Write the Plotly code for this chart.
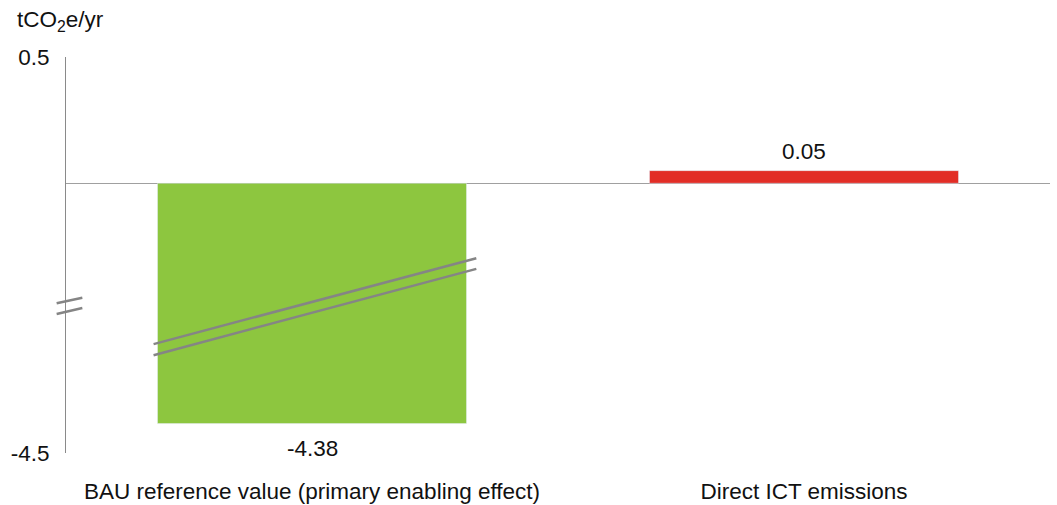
import plotly.graph_objects as go

# Data
categories = ["BAU reference value (primary enabling effect)", "Direct ICT emissions"]
values = [-4.38, 0.05]
bar_colors = ["#8dc63f", "#e22d26"]
unit_label = "tCO<sub>2</sub>e/yr"
upper_ticks = [0.5]
lower_ticks = [-4.5]

FONT = "Liberation Sans, Arial, sans-serif"
FS = 22.5
AXIS_GRAY = "#8a8a8a"
BREAK_GRAY = "#858585"
split = 147 / 396      # boundary between the lower and upper panels of the broken axis
overlap = 2 / 396      # upper panel reaches slightly into the lower one so the bar has no seam

fig = go.Figure()

# Upper panel (near zero) and lower panel (deep negative) share the category axis
fig.add_trace(go.Bar(x=categories, y=values, marker_color=bar_colors, width=0.628,
                     xaxis="x2", yaxis="y2", hoverinfo="x+y"))
fig.add_trace(go.Bar(x=categories, y=values, marker_color=bar_colors, width=0.628,
                     xaxis="x", yaxis="y", hoverinfo="x+y"))

# Value labels
fig.add_annotation(x=categories[1], y=values[1], xref="x2", yref="y2",
                   text=f"{values[1]:.2f}", showarrow=False, yanchor="bottom", yshift=5,
                   font=dict(family=FONT, size=FS, color="#111"))
fig.add_annotation(x=categories[0], y=values[0], xref="x", yref="y",
                   text=f"{values[0]:.2f}", showarrow=False, yanchor="top", yshift=-10,
                   font=dict(family=FONT, size=FS, color="#111"))

# Unit label above the value axis
fig.add_annotation(x=-51 / 984, y=1 + 36 / 396, xref="paper", yref="paper", text=unit_label,
                   showarrow=False, xanchor="left", yanchor="middle",
                   font=dict(family=FONT, size=FS, color="#111"))

# Axis break marks on the value axis
for y0, y1 in [(0.378, 0.392), (0.351, 0.366)]:
    fig.add_shape(type="line", xref="paper", yref="paper", x0=-0.0095, x1=0.0166,
                  y0=y0, y1=y1, line=dict(color=BREAK_GRAY, width=2.5))

# Break marks across the truncated bar
for y0, y1 in [(0.275, 0.492), (0.247, 0.465)]:
    fig.add_shape(type="line", xref="x", yref="paper", x0=-0.322, x1=0.334,
                  y0=y0, y1=y1, line=dict(color=BREAK_GRAY, width=2.5))

upper_px_per_unit = 249 / (0.5 + 0.486)
fig.update_layout(
    width=1057, height=505,
    margin=dict(l=66, r=7, t=57, b=52),
    paper_bgcolor="white", plot_bgcolor="white",
    showlegend=False,
    font=dict(family=FONT, size=FS, color="#111"),
    xaxis=dict(domain=[0, 1], anchor="y", type="category", categoryorder="array",
               categoryarray=categories, showline=False, showgrid=False, ticks="",
               ticklabelstandoff=22, tickfont=dict(size=FS), automargin=False),
    yaxis=dict(domain=[0, split], anchor="x", range=[-4.5, -3.9], tickvals=lower_ticks,
               ticktext=[f"{v:g}" for v in lower_ticks], showgrid=False, zeroline=False,
               showline=True, linecolor=AXIS_GRAY, linewidth=1, ticks="",
               ticklabelstandoff=11, tickfont=dict(size=FS), automargin=False),
    xaxis2=dict(domain=[0, 1], anchor="y2", matches="x", type="category",
                showticklabels=False, showline=False, showgrid=False, ticks="",
                automargin=False),
    yaxis2=dict(domain=[split - overlap, 1], anchor="x2",
                range=[-0.486 - overlap * 396 / upper_px_per_unit, 0.5],
                tickvals=upper_ticks, ticktext=[f"{v:g}" for v in upper_ticks],
                showgrid=False, zeroline=True, zerolinecolor="#a0a0a0", zerolinewidth=1.2,
                showline=True, linecolor=AXIS_GRAY, linewidth=1, ticks="",
                ticklabelstandoff=11, tickfont=dict(size=FS), automargin=False),
)

fig.write_html("out.html")
